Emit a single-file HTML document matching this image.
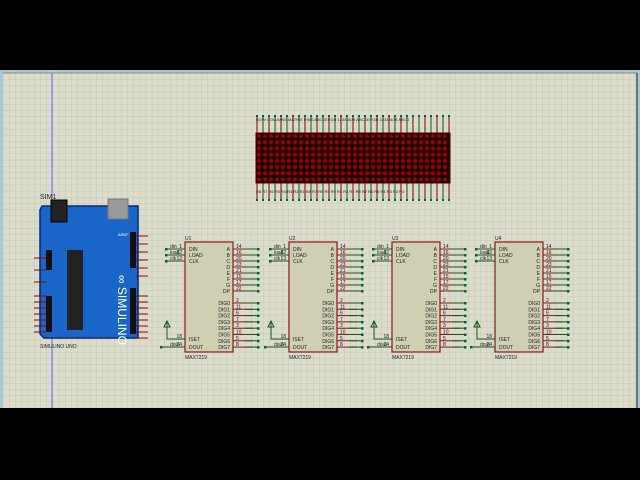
<!DOCTYPE html>
<html><head><meta charset="utf-8"><style>
html,body{margin:0;padding:0;background:#000;width:640px;height:480px;overflow:hidden}
svg{display:block}
text{font-family:"Liberation Sans",sans-serif;font-size:5px;fill:#222}
.n{font-size:5px;fill:#111}
</style></head><body>
<svg id="s" width="640" height="480" viewBox="0 0 640 480" xmlns="http://www.w3.org/2000/svg">
<defs>
<pattern id="g" x="3" y="73" width="6.2" height="6.2" patternUnits="userSpaceOnUse">
<rect width="6.2" height="6.2" fill="#dcdccd"/>
<path d="M0 0H6.2M0 0V6.2" stroke="#c3c3b2" stroke-width="0.8"/>
</pattern>
<pattern id="led" x="256" y="133" width="6" height="6.2" patternUnits="userSpaceOnUse">
<rect width="6" height="6.2" fill="#1a0000"/>
<circle cx="3" cy="3.1" r="2" fill="#9a0000"/>
</pattern>
</defs>
<rect x="0" y="70" width="640" height="340" fill="#a8c8d8"/>
<rect x="3" y="73" width="634" height="335" fill="url(#g)"/>
<line x1="3" y1="73" x2="637" y2="73" stroke="#888" stroke-width="1"/>
<line x1="637" y1="73" x2="637" y2="408" stroke="#555" stroke-width="1.5"/>
<line x1="52" y1="73" x2="52" y2="408" stroke="#6a6af0" stroke-width="1"/>
<rect x="0" y="408" width="640" height="72" fill="#000"/>

<!-- LED matrix -->
<g id="ledpins"></g>
<rect x="256" y="133" width="194" height="50" fill="url(#led)" stroke="#400" stroke-width="1"/>
<g font-size="4"><text x="256" y="121" style="font-size:4px">ROW COLUMNS MATRIX PINS ABCDEFGH 12345678 ABCDEFGH 12345678 ABCD</text>
<text x="256" y="193" style="font-size:4px">R8 R7 R6 R5 R4 R3 R2 R1 R8 R7 R6 R5 R4 R3 R2 R1 R8 R7 R6 R5 R4 R3 R2 R1</text></g>

<!-- Arduino -->
<text x="40" y="199" style="font-size:7px">SIM1</text>
<path d="M42 206H138V338H44L40 334V210Z" fill="#1a66c8" stroke="#0a2a70" stroke-width="1.5"/>
<rect x="51" y="200" width="16" height="22" fill="#222" stroke="#000"/>
<rect x="108" y="199" width="20" height="20" fill="#999" stroke="#777"/>
<rect x="67" y="250" width="16" height="80" fill="#222"/>
<rect x="46" y="250" width="6" height="20" fill="#111"/>
<rect x="46" y="296" width="6" height="36" fill="#111"/>
<rect x="130" y="232" width="6" height="36" fill="#111"/>
<rect x="130" y="288" width="6" height="46" fill="#111"/>
<text x="95" y="262" transform="rotate(90 100 280)" style="font-size:12px;fill:#fff">∞ SIMULINO</text>
<text x="40" y="348" style="font-size:5px">SIMULINO UNO</text>
<text x="118" y="236" style="font-size:4px;fill:#fff">AREF</text>
<g id="ard"></g>

<g id="chips"></g>
<g id="T">
<!-- text per chip -->
</g>
</svg>
<script>
const S='http://www.w3.org/2000/svg',svg=document.getElementById('s');
function el(t,a,p){const e=document.createElementNS(S,t);for(const k in a)e.setAttribute(k,a[k]);(p||svg).appendChild(e);return e}
const lp=document.getElementById('ledpins');
for(let i=0;i<33;i++){const x=257+i*6;
 el('line',{x1:x,y1:116,x2:x,y2:133,stroke:i%2?'#185818':'#800',"stroke-width":1},lp);
 el('rect',{x:x-1,y:115,width:2,height:2,fill:'#063'},lp);
 el('line',{x1:x,y1:183,x2:x,y2:200,stroke:i%2?'#185818':'#800',"stroke-width":1},lp);
 el('rect',{x:x-1,y:199,width:2,height:2,fill:'#063'},lp);}
const ar=document.getElementById('ard');
[258,270,282,296,302,308,314,320,326,332].forEach(y=>el('line',{x1:34,y1:y,x2:46,y2:y,stroke:'#900'},ar));
[236,244,252,260,268,276,296,302,308,314,320,326,332,338].forEach(y=>el('line',{x1:136,y1:y,x2:148,y2:y,stroke:'#900'},ar));
const ch=document.getElementById('chips');
[185,289,392,495].forEach((x0,ci)=>{const y0=242;
 el('rect',{x:x0,y:y0,width:48,height:110,fill:'#cfcfb4',stroke:'#8a1a1a',"stroke-width":1.2},ch);
 for(let i=0;i<8;i++){let y=y0+7+i*6;el('line',{x1:x0+48,y1:y,x2:x0+68,y2:y,stroke:'#8a1a1a'},ch);el('line',{x1:x0+60,y1:y,x2:x0+74,y2:y,stroke:'#185818'},ch);el('rect',{x:x0+72,y:y-1,width:2.5,height:2.5,fill:'#063'},ch);}
 for(let i=0;i<8;i++){let y=y0+61+i*6.3;el('line',{x1:x0+48,y1:y,x2:x0+68,y2:y,stroke:'#8a1a1a'},ch);el('line',{x1:x0+60,y1:y,x2:x0+74,y2:y,stroke:'#185818'},ch);el('rect',{x:x0+72,y:y-1,width:2.5,height:2.5,fill:'#063'},ch);}
 [7,13,19].forEach(d=>{el('line',{x1:x0-18,y1:y0+d,x2:x0,y2:y0+d,stroke:'#185818'},ch);el('rect',{x:x0-20,y:y0+d-1,width:2.5,height:2.5,fill:'#063'},ch)});
 el('path',{d:`M${x0-18} ${y0+80}V${y0+97}H${x0}M${x0-21} ${y0+85}L${x0-18} ${y0+79}L${x0-15} ${y0+85}Z`,stroke:'#185818',fill:'none'},ch);
 el('line',{x1:x0-24,y1:y0+105,x2:x0,y2:y0+105,stroke:'#185818'},ch);el('rect',{x:x0-25,y:y0+104,width:2.5,height:2.5,fill:'#063'},ch);
 const T=(x,y,s,anc)=>{const t=el('text',{x,y,"text-anchor":anc||'start'},ch);t.textContent=s};
 T(x0,y0-2,'U'+(ci+1));T(x0,y0+117,'MAX7219');
 ['DIN','LOAD','CLK'].forEach((s,i)=>T(x0+4,y0+9+i*6,s));T(x0+4,y0+99,'ISET');T(x0+4,y0+107,'DOUT');
 ['A','B','C','D','E','F','G','DP'].forEach((s,i)=>T(x0+45,y0+9+i*6,s,'end'));
 for(let i=0;i<8;i++)T(x0+45,y0+63+i*6.3,'DIG'+i,'end');
 [14,16,20,23,21,15,17,22].forEach((s,i)=>T(x0+51,y0+6+i*6,''+s));
 [2,11,6,7,3,10,5,8].forEach((s,i)=>T(x0+51,y0+60+i*6.3,''+s));
 [1,12,13].forEach((s,i)=>T(x0-3,y0+6+i*6,''+s,'end'));T(x0-3,y0+96,'18','end');T(x0-3,y0+104,'24','end');
 ['din','load','clk'].forEach((s,i)=>T(x0-15,y0+6+i*6,s));T(x0-15,y0+104,'dout');
});
</script>
</body></html>
